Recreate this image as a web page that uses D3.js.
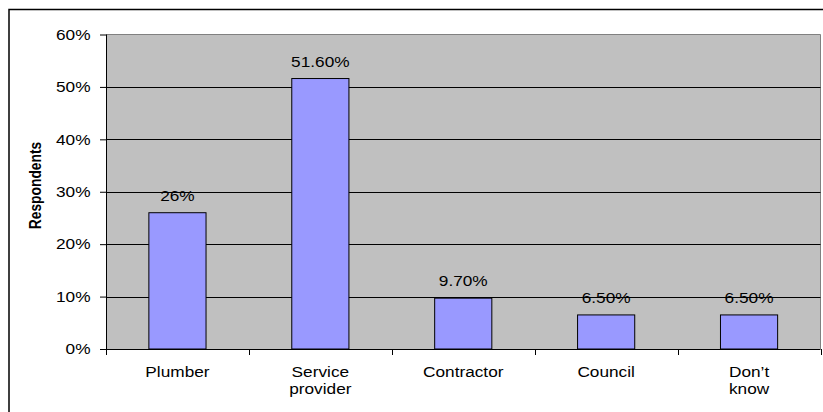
<!DOCTYPE html>
<html><head><meta charset="utf-8">
<script src="https://cdn.jsdelivr.net/npm/d3@7"></script>
<style>body{margin:0;background:#fff}svg{display:block}text{font-family:"Liberation Sans",Arial,sans-serif}</style>
</head><body>
<script>
const categories = [["Plumber"], ["Service", "provider"], ["Contractor"], ["Council"], ["Don\u2019t", "know"]];
const values = [26, 51.6, 9.7, 6.5, 6.5];
const valueLabels = ["26%", "51.60%", "9.70%", "6.50%", "6.50%"];
const yTicks = [0, 10, 20, 30, 40, 50, 60];
const yLabel = "Respondents";

const W = 823, H = 412;
const SX = 1.15; // horizontal glyph stretch seen in the reference
const FS = 15;
const svg = d3.select("body").append("svg").attr("width", W).attr("height", H);
// outer chart frame (cropped on right/bottom)
svg.append("rect").attr("x", 9).attr("y", 9.5).attr("width", 830).attr("height", 420)
  .attr("fill", "#fff").attr("stroke", "#000").attr("stroke-width", 1.5);

const L = 106, R = 820.5, T = 34.5, B = 349;
const xc = d3.scaleBand().domain(d3.range(categories.length)).range([L, R]);
const y = d3.scaleLinear().domain([0, 60]).range([B, T]);

// plot area
svg.append("rect").attr("x", L).attr("y", T).attr("width", R - L).attr("height", B - T).attr("fill", "#C0C0C0");
svg.append("path").attr("d", `M${L},${T}H${R}V${B}`).attr("fill", "none").attr("stroke", "#808080").attr("stroke-width", 1);

// gridlines
svg.append("g").selectAll("line").data(yTicks.filter(d => d > 0 && d < 60)).join("line")
  .attr("x1", L).attr("x2", R).attr("y1", d => Math.round(y(d)) + 0.5).attr("y2", d => Math.round(y(d)) + 0.5)
  .attr("stroke", "#000").attr("stroke-width", 1);

// bars
const barW = xc.bandwidth() / 2.5;
svg.append("g").selectAll("rect").data(values).join("rect")
  .attr("x", (d, i) => xc(i) + xc.bandwidth() / 2 - barW / 2)
  .attr("width", barW)
  .attr("y", d => y(d)).attr("height", d => B - y(d))
  .attr("fill", "#9999FF").attr("stroke", "#000").attr("stroke-width", 1);

// value labels
svg.append("g").selectAll("text").data(values).join("text")
  .attr("transform", (d, i) => `translate(${xc(i) + xc.bandwidth() / 2},${y(d) - 12}) scale(${SX},1)`)
  .attr("text-anchor", "middle").attr("font-size", FS).attr("fill", "#000")
  .text((d, i) => valueLabels[i]);

// y axis
const yAxis = d3.axisLeft(y).tickValues(yTicks).tickFormat(d => d + "%").tickSize(6).tickPadding(10);
const gy = svg.append("g").attr("transform", `translate(${L},0)`).call(yAxis);
gy.select(".domain").attr("stroke", "#000").attr("d", `M0.5,${T}V${B}`);
gy.selectAll(".tick line").attr("stroke", "#000");
gy.selectAll(".tick text").attr("x", 0).attr("transform", `translate(-15.5,0) scale(${SX},1)`)
  .attr("font-size", FS).attr("font-family", '"Liberation Sans",Arial,sans-serif').attr("fill", "#000");

// x axis
const gx = svg.append("g").attr("transform", `translate(0,${B})`);
gx.append("line").attr("x1", L).attr("x2", R).attr("y1", 0.5).attr("y2", 0.5).attr("stroke", "#000");
gx.selectAll("line.t").data(d3.range(categories.length + 1)).join("line").attr("class", "t")
  .attr("x1", i => Math.round(L + i * xc.step()) + 0.5).attr("x2", i => Math.round(L + i * xc.step()) + 0.5)
  .attr("y1", 0).attr("y2", 6).attr("stroke", "#000");
const xt = gx.selectAll("text").data(categories).join("text")
  .attr("transform", (d, i) => `translate(${xc(i) + xc.bandwidth() / 2},28) scale(${SX},1)`)
  .attr("text-anchor", "middle").attr("font-size", FS).attr("fill", "#000");
xt.selectAll("tspan").data(d => d).join("tspan")
  .attr("x", 0)
  .attr("dy", (d, i) => i === 0 ? 0 : 17).text(d => d);

// y label
svg.append("text").attr("transform", `translate(40.5,185.5) scale(${SX},1) rotate(-90)`)
  .attr("text-anchor", "middle").attr("font-size", 13.8).attr("font-weight", "bold").attr("fill", "#000")
  .text(yLabel);
</script>
</body></html>
